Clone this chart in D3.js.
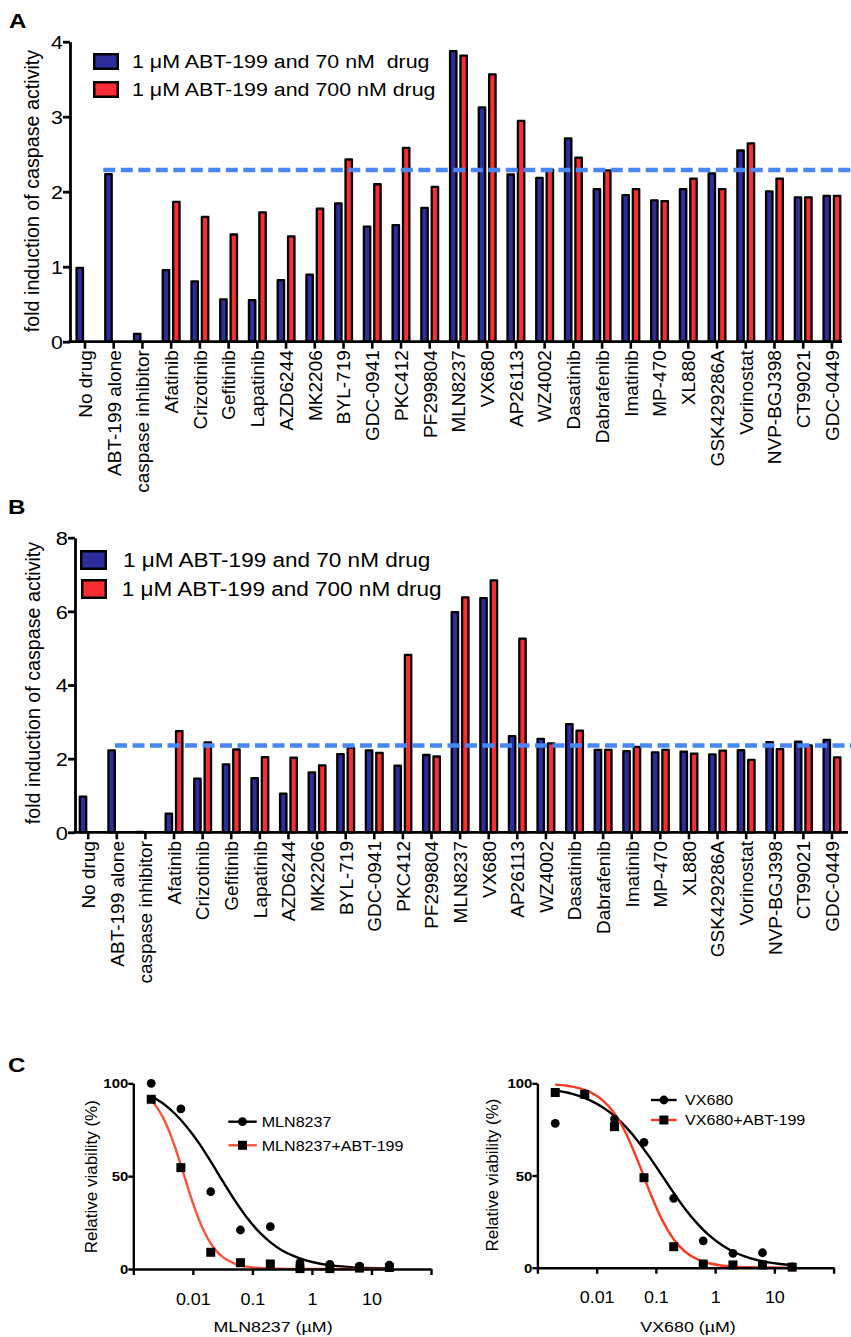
<!DOCTYPE html>
<html>
<head>
<meta charset="utf-8">
<script src="https://cdn.jsdelivr.net/npm/d3@7"></script>
<style>
  html, body { margin: 0; padding: 0; background: #fff; }
  svg { display: block; }
  text { font-family: 'Liberation Sans', Arial, Helvetica, sans-serif; fill: #000; }
</style>
</head>
<body>
<script>
// ---------------- DATA ----------------
const categories = ["No drug", "ABT-199 alone", "caspase inhibitor", "Afatinib", "Crizotinib",
  "Gefitinib", "Lapatinib", "AZD6244", "MK2206", "BYL-719", "GDC-0941", "PKC412", "PF299804",
  "MLN8237", "VX680", "AP26113", "WZ4002", "Dasatinib", "Dabrafenib", "Imatinib", "MP-470",
  "XL880", "GSK429286A", "Vorinostat", "NVP-BGJ398", "CT99021", "GDC-0449"];

const seriesNames = ["1 \u03bcM ABT-199 and 70 nM  drug", "1 \u03bcM ABT-199 and 700 nM drug"];
const seriesNamesB = ["1 \u03bcM ABT-199 and 70 nM drug", "1 \u03bcM ABT-199 and 700 nM drug"];

const panelA_70nM = [1.00, 2.25, 0.12, 0.97, 0.82, 0.58, 0.57, 0.835, 0.91, 1.86, 1.55, 1.57, 1.80,
  3.89, 3.14, 2.245, 2.20, 2.725, 2.05, 1.97, 1.90, 2.05, 2.26, 2.565, 2.02, 1.94, 1.96];
const panelA_700nM = [null, null, null, 1.88, 1.68, 1.445, 1.74, 1.42, 1.79, 2.445, 2.115, 2.60, 2.08,
  3.83, 3.58, 2.96, 2.31, 2.47, 2.30, 2.05, 1.89, 2.19, 2.05, 2.66, 2.19, 1.94, 1.96];
const panelA_threshold = 2.29;
const panelA_ticks = [0, 1, 2, 3, 4];

const panelB_70nM = [1.00, 2.255, 0.04, 0.54, 1.49, 1.875, 1.50, 1.08, 1.66, 2.155, 2.255, 1.84, 2.13,
  6.01, 6.39, 2.645, 2.57, 2.97, 2.27, 2.235, 2.20, 2.22, 2.145, 2.26, 2.48, 2.49, 2.54];
const panelB_700nM = [null, null, null, 2.78, 2.47, 2.28, 2.07, 2.055, 1.85, 2.33, 2.19, 4.85, 2.09,
  6.41, 6.875, 5.29, 2.445, 2.79, 2.27, 2.35, 2.27, 2.17, 2.25, 2.00, 2.29, 2.39, 2.065];
const panelB_threshold = 2.36;
const panelB_ticks = [0, 2, 4, 6, 8];

const yTitle = "fold induction of caspase activity";

// Panel C: dose-response
const concentrations = [0.002, 0.0063, 0.02, 0.063, 0.2, 0.63, 2, 6.3, 20];
const mlnAlone = [100, 86.2, 41.6, 21.0, 22.8, 3.4, 2.5, 1.6, 2.1];
const mlnCombo = [91.4, 54.6, 9.0, 3.4, 2.7, 0.2, 0.2, 0.5, 0.8];
const vxAlone = [78.3, 94.2, 80.6, 68.0, 37.6, 14.6, 7.8, 8.1, 0.5];
const vxCombo = [95.0, 94.0, 76.5, 48.8, 11.4, 2.0, 1.5, 1.5, 0.3];

// fitted curves (log10 concentration, % viability)
const curveLogX = [-2.7, -2.5, -2.3, -2.1, -1.9, -1.7, -1.5, -1.3, -1.1, -0.9, -0.7, -0.5, -0.3,
  -0.1, 0.1, 0.3, 0.5, 0.7, 0.9, 1.1, 1.3];
const mlnAloneFit = [93.1, 89.1, 83.6, 76.5, 67.9, 57.9, 47.4, 37.2, 28.0, 20.4, 14.5, 10.0, 6.9,
  4.6, 3.1, 2.1, 1.4, 0.9, 0.6, 0.4, 0.3];
const mlnComboLogX = [-2.7, -2.6, -2.5, -2.4, -2.3, -2.2, -2.1, -2.0, -1.9, -1.8, -1.7, -1.6, -1.5,
  -1.3, -1.1, -0.9, -0.5, 0, 0.5, 1.3];
const mlnComboFit = [91.0, 86.9, 81.5, 74.4, 65.7, 55.9, 45.6, 35.6, 26.8, 19.5, 13.8, 9.5, 6.5,
  2.9, 1.3, 0.6, 0.1, 0, 0, 0];
const vxAloneFit = [96.2, 95.0, 93.2, 90.6, 87.0, 82.3, 76.1, 68.5, 59.7, 50.2, 40.6, 31.6, 23.9,
  17.5, 12.6, 8.8, 6.2, 4.2, 2.9, 2.0, 1.35];
const vxComboFit = [99.3, 98.7, 97.4, 95.1, 90.9, 83.7, 72.5, 57.5, 40.9, 26.2, 15.4, 8.5, 4.6,
  2.4, 1.2, 0.6, 0.3, 0.2, 0.1, 0.05, 0.02];
const cXTicks = [0.001, 0.01, 0.1, 1, 10, 100];
const cXLabels = ["", "0.01", "0.1", "1", "10", ""];
const cYTicks = [0, 50, 100];

// ---------------- DRAW ----------------
const SX = 1.15;          // horizontal glyph stretch seen in the figure
const SW = 2.3;           // bar outline width
const colBlue = "#2d2d9e", colRed = "#fa2d33", colDash = "#4a86f6";

const svg = d3.select("body").append("svg").attr("width", 851).attr("height", 1337);
svg.append("rect").attr("width", 851).attr("height", 1337).attr("fill", "#fff");

function htext(g, x, y, str, size, opts = {}) {
  return g.append("text")
    .attr("transform", `translate(${x},${y}) scale(${SX},1)`)
    .style("font-size", size + "px")
    .style("font-weight", opts.bold ? "bold" : null)
    .attr("text-anchor", opts.anchor || "start")
    .style("white-space", "pre")
    .text(str);
}

function barPanel(p) {
  const g = svg.append("g");
  const x = d3.scaleBand().domain(categories).range([p.x0, p.x1]);
  const sub = d3.scaleBand().domain(["s70", "s700"]).range([-9.55, 9.55]).paddingInner(0.163);
  const y = d3.scaleLinear().domain([0, p.yMax]).range([p.yBase, p.yTop]);
  const rows = categories.map((c, i) => ({ c, s70: p.v70[i], s700: p.v700[i] }));
  const fills = { s70: colBlue, s700: colRed };
  ["s70", "s700"].forEach(s => {
    g.append("g").selectAll("rect").data(rows.filter(d => d[s] != null)).join("rect")
      .attr("x", d => x(d.c) + x.bandwidth() / 2 + sub(s) + SW / 2)
      .attr("width", sub.bandwidth() - SW)
      .attr("y", d => y(d[s]) + SW / 2)
      .attr("height", d => Math.max(0.01, p.yBase - y(d[s]) - SW / 2))
      .attr("fill", fills[s]).attr("stroke", "#000").attr("stroke-width", SW)
      .attr("stroke-linejoin", "round");
  });
  // threshold dashed line
  const dx0 = x(categories[1]) + x.bandwidth() / 2 + p.dashOffset;
  g.append("line").attr("x1", dx0).attr("x2", 851)
    .attr("y1", y(p.threshold)).attr("y2", y(p.threshold))
    .attr("stroke", colDash).attr("stroke-width", 4.5).attr("stroke-dasharray", "12,5.5");

  // y axis
  const ya = g.append("g").attr("transform", `translate(${p.axisX},0)`)
    .call(d3.axisLeft(y).tickValues(p.ticks).tickSize(7).tickSizeOuter(0).tickFormat(d3.format("d")));
  ya.select(".domain").attr("stroke-width", 2.8);
  ya.selectAll(".tick line").attr("stroke-width", 2.8);
  ya.selectAll(".tick text").attr("x", null).attr("dy", "0.36em")
    .attr("transform", `translate(-7,0) scale(${SX},1)`)
    .style("font-size", p.tickFont + "px");

  // x axis
  const xa = g.append("g").attr("transform", `translate(0,${p.yBase})`)
    .call(d3.axisBottom(x).tickSize(7).tickSizeOuter(0));
  xa.select(".domain").remove();
  xa.selectAll(".tick line").attr("stroke-width", 2.6);
  xa.selectAll(".tick text").attr("y", null).attr("x", null).attr("dy", "0.36em")
    .attr("transform", `translate(0,${p.labelGap}) rotate(-90)`)
    .attr("text-anchor", "end").style("font-size", "19px");
  g.append("line").attr("x1", p.axisX - 1.4).attr("x2", p.axisEnd)
    .attr("y1", p.yBase).attr("y2", p.yBase).attr("stroke", "#000").attr("stroke-width", 2.8);

  // y title
  g.append("text").attr("transform", `translate(${p.titleX},${p.titleY}) rotate(-90)`)
    .attr("text-anchor", "middle").style("font-size", "19.7px").text(yTitle);

  // legend
  const lg = g.append("g");
  p.legend.forEach((L, i) => {
    lg.append("rect").attr("x", L.rx + 1.25).attr("y", L.ry + 1.25)
      .attr("width", L.rw - 2.5).attr("height", L.rh - 2.5)
      .attr("fill", i === 0 ? colBlue : colRed).attr("stroke", "#000").attr("stroke-width", 2.5);
    htext(lg, L.tx, L.ty, p.names[i], p.legendFont);
  });
}

barPanel({
  x0: 70.6, x1: 846.3, axisX: 70, axisEnd: 842, yBase: 341.7, yTop: 41.7, yMax: 4,
  v70: panelA_70nM, v700: panelA_700nM, threshold: panelA_threshold, ticks: panelA_ticks,
  dashOffset: -10.4, tickFont: 18.6, labelGap: 8.5, titleX: 39, titleY: 191,
  names: seriesNames, legendFont: 18.6,
  legend: [
    { rx: 93, ry: 53, rw: 26, rh: 17, tx: 132, ty: 68 },
    { rx: 93, ry: 81, rw: 26, rh: 17, tx: 132, ty: 96 }
  ]
});

barPanel({
  x0: 73.9, x1: 846.3, axisX: 75, axisEnd: 848, yBase: 832.3, yTop: 537.7, yMax: 8,
  v70: panelB_70nM, v700: panelB_700nM, threshold: panelB_threshold, ticks: panelB_ticks,
  dashOffset: -1.8, tickFont: 19, labelGap: 8.7, titleX: 40, titleY: 683,
  names: seriesNamesB, legendFont: 19.6,
  legend: [
    { rx: 80, ry: 550, rw: 27, rh: 20, tx: 123, ty: 566.7 },
    { rx: 81, ry: 579, rw: 26, rh: 20, tx: 121.7, ty: 595.7 }
  ]
});

// panel letters
htext(svg, 9, 28, "A", 21, { bold: true });
htext(svg, 8, 514, "B", 21, { bold: true });
htext(svg, 8, 1072, "C", 21, { bold: true });

// ---------------- Panel C ----------------
function dosePanel(p) {
  const g = svg.append("g");
  const x = d3.scaleLog().domain([0.001, 100]).range([p.x0, p.x1]);
  const y = d3.scaleLinear().domain([0, 100]).range([p.y0, p.y100]);

  const line = d3.line().x(d => x(Math.pow(10, d[0]))).y(d => y(d[1])).curve(d3.curveMonotoneX);
  g.append("path").datum(p.fitA.lx.map((v, i) => [v, p.fitA.v[i]])).attr("d", line)
    .attr("fill", "none").attr("stroke", "#000").attr("stroke-width", 2.4);
  g.append("path").datum(p.fitB.lx.map((v, i) => [v, p.fitB.v[i]])).attr("d", line)
    .attr("fill", "none").attr("stroke", p.red).attr("stroke-width", 2.4);

  // axes
  const xa = g.append("g").attr("transform", `translate(0,${p.y0})`)
    .call(d3.axisBottom(x).tickValues(cXTicks).tickSize(6).tickSizeOuter(0)
      .tickFormat((d, i) => cXLabels[i]));
  xa.select(".domain").attr("stroke-width", 2.4);
  xa.selectAll(".tick line").attr("stroke-width", 2.4);
  xa.selectAll(".tick text").attr("y", null).attr("dy", null)
    .attr("transform", `translate(0,${p.tickLabelDy}) scale(${SX},1)`)
    .style("font-size", "15.6px");

  const ya = g.append("g").attr("transform", `translate(${p.x0},0)`)
    .call(d3.axisLeft(y).tickValues(cYTicks).tickSize(5).tickSizeOuter(0));
  ya.select(".domain").attr("stroke-width", 2.4);
  ya.selectAll(".tick line").attr("stroke-width", 2.4);
  ya.selectAll(".tick text").attr("x", null).attr("dy", "0.36em")
    .attr("transform", `translate(-5,0) scale(${SX},1)`)
    .style("font-size", "13px").style("font-weight", "bold");

  // points
  const ptsA = concentrations.map((c, i) => [c, p.ptsA[i]]);
  const ptsB = concentrations.map((c, i) => [c, p.ptsB[i]]);
  g.append("g").selectAll("circle").data(ptsA).join("circle")
    .attr("cx", d => x(d[0])).attr("cy", d => y(d[1])).attr("r", 4.4).attr("fill", "#000");
  g.append("g").selectAll("rect").data(ptsB).join("rect")
    .attr("x", d => x(d[0]) - 4.5).attr("y", d => y(d[1]) - 4.5)
    .attr("width", 9).attr("height", 9).attr("fill", "#000");

  // titles
  g.append("text").attr("transform", `translate(${p.yTitleX},${p.yTitleY}) rotate(-90)`)
    .attr("text-anchor", "middle").style("font-size", "17px").text("Relative viability (%)");
  htext(g, p.xTitleX, 1332, p.xTitle, 15.5, { anchor: "middle" });

  // legend
  const L = p.legend;
  g.append("line").attr("x1", L.x0).attr("x2", L.x1).attr("y1", L.y1).attr("y2", L.y1)
    .attr("stroke", "#000").attr("stroke-width", 2.4);
  g.append("circle").attr("cx", (L.x0 + L.x1) / 2).attr("cy", L.y1).attr("r", 4.4).attr("fill", "#000");
  g.append("line").attr("x1", L.x0).attr("x2", L.x1).attr("y1", L.y2).attr("y2", L.y2)
    .attr("stroke", p.red).attr("stroke-width", 2.4);
  g.append("rect").attr("x", (L.x0 + L.x1) / 2 - 4.5).attr("y", L.y2 - 4.5)
    .attr("width", 9).attr("height", 9).attr("fill", "#000");
  htext(g, L.tx, L.y1 + 5.3, p.names[0], 14);
  htext(g, L.tx, L.y2 + 5.3, p.names[1], 14);
}

dosePanel({
  x0: 133.3, x1: 431, y0: 1269, y100: 1083.3, red: "#f8553a",
  ptsA: mlnAlone, ptsB: mlnCombo,
  fitA: { lx: curveLogX, v: mlnAloneFit }, fitB: { lx: mlnComboLogX, v: mlnComboFit },
  tickLabelDy: 36, yTitleX: 96.5, yTitleY: 1176.7, xTitleX: 273, xTitle: "MLN8237 (\u00b5M)",
  names: ["MLN8237", "MLN8237+ABT-199"],
  legend: { x0: 228.3, x1: 256.7, y1: 1121.7, y2: 1145.3, tx: 261.7 }
});

dosePanel({
  x0: 537.4, x1: 833.6, y0: 1267.7, y100: 1083.3, red: "#fd3a22",
  ptsA: vxAlone, ptsB: vxCombo,
  fitA: { lx: curveLogX, v: vxAloneFit }, fitB: { lx: curveLogX, v: vxComboFit },
  tickLabelDy: 35.5, yTitleX: 498, yTitleY: 1175, xTitleX: 688, xTitle: "VX680 (\u00b5M)",
  names: ["VX680", "VX680+ABT-199"],
  legend: { x0: 651, x1: 676.7, y1: 1100, y2: 1120, tx: 685 }
});
</script>
</body>
</html>
